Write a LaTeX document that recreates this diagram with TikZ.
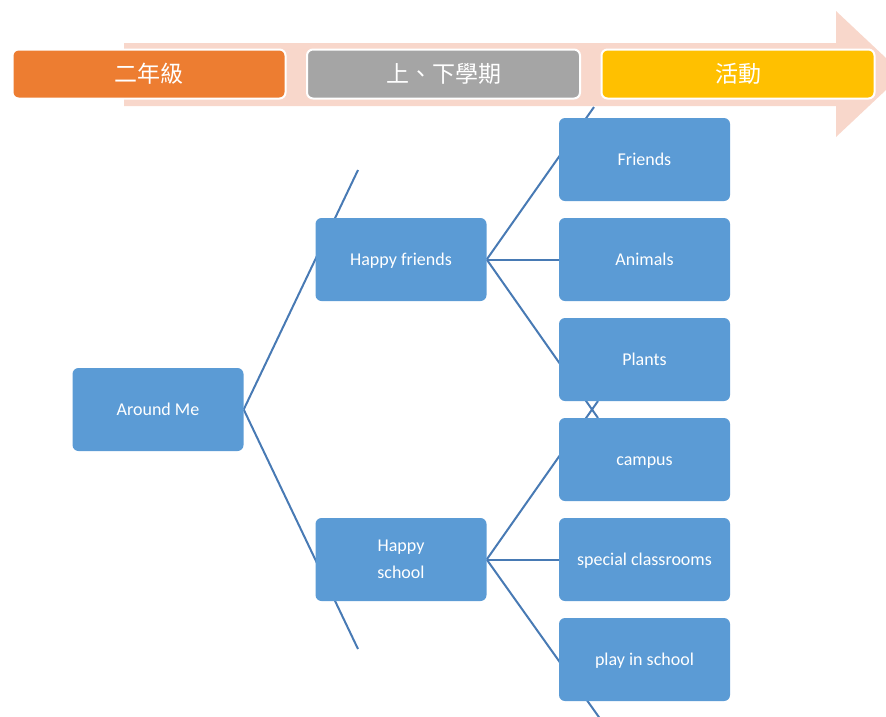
\documentclass[tikz,border=0pt]{standalone}
\usepackage{fontspec}
\setmainfont{Carlito}
\newfontfamily\cjk{Noto Sans CJK TC}
\usetikzlibrary{backgrounds}
\definecolor{boxblue}{RGB}{91,155,213}
\definecolor{linkblue}{RGB}{72,122,180}
\definecolor{arrowpink}{RGB}{248,215,203}
\definecolor{c1}{RGB}{237,125,49}
\definecolor{c2}{RGB}{165,165,165}
\definecolor{c3}{RGB}{255,192,0}
\tikzset{
  bluebox/.style={rectangle, rounded corners=6pt, fill=boxblue, minimum width=171pt, minimum height=83pt,
    inner sep=0pt, text=white, align=center, font=\fontsize{18}{27}\selectfont},
  oneline/.style={bluebox, text height=12pt, text depth=0pt},
  topbox/.style={rectangle, rounded corners=6pt, draw=white, line width=2pt, minimum width=273pt, minimum height=49pt,
    inner sep=0pt, text=white, font=\cjk\fontsize{23}{26}\selectfont},
  conn/.style={draw=linkblue, line width=2pt},
}
\begin{document}
\begin{tikzpicture}[x=1pt,y=-1pt]
\clip (0,0) rectangle (886,716);
\useasboundingbox (0,0) rectangle (886,716);
% blue boxes
\node[oneline] (am) at (158,409.5) {Around Me};
\node[oneline] (hf) at (401,259.5) {Happy friends};
\node[bluebox] (hs) at (401,559.5) {Happy\\school};
\node[oneline] (fr) at (644.5,159.5) {Friends};
\node[oneline] (an) at (644.5,259.5) {Animals};
\node[oneline] (pl) at (644.5,359.5) {Plants};
\node[oneline] (ca) at (644.5,459.5) {campus};
\node[oneline] (sc) at (644.5,559.5) {special classrooms};
\node[oneline] (ps) at (644.5,659.5) {play in school};
% connector ends
\coordinate (e1) at (358,170);
\coordinate (e2) at (358,649);
\coordinate (e3) at (594,107);
\coordinate (e4) at (598,418);
\coordinate (e5) at (598,401);
\coordinate (e6) at (601,720);
\begin{scope}[on background layer]
\draw[conn] (am.east) -- (e1);
\draw[conn] (am.east) -- (e2);
\draw[conn] (hf.east) -- (e3);
\draw[conn] (hf.east) -- (an.west);
\draw[conn] (hf.east) -- (e4);
\draw[conn] (hs.east) -- (e5);
\draw[conn] (hs.east) -- (sc.west);
\draw[conn] (hs.east) -- (e6);
\end{scope}
% arrow
\fill[arrowpink] (124,43) -- (836,43) -- (836,11) -- (903,74) -- (836,137) -- (836,106) -- (124,106) -- cycle;
% top boxes
\node[topbox, fill=c1] (t1) at (149,74) {二年級};
\node[topbox, fill=c2] (t2) at (443.5,74) {上、下學期};
\node[topbox, fill=c3] (t3) at (738,74) {活動};
\end{tikzpicture}
\end{document}
